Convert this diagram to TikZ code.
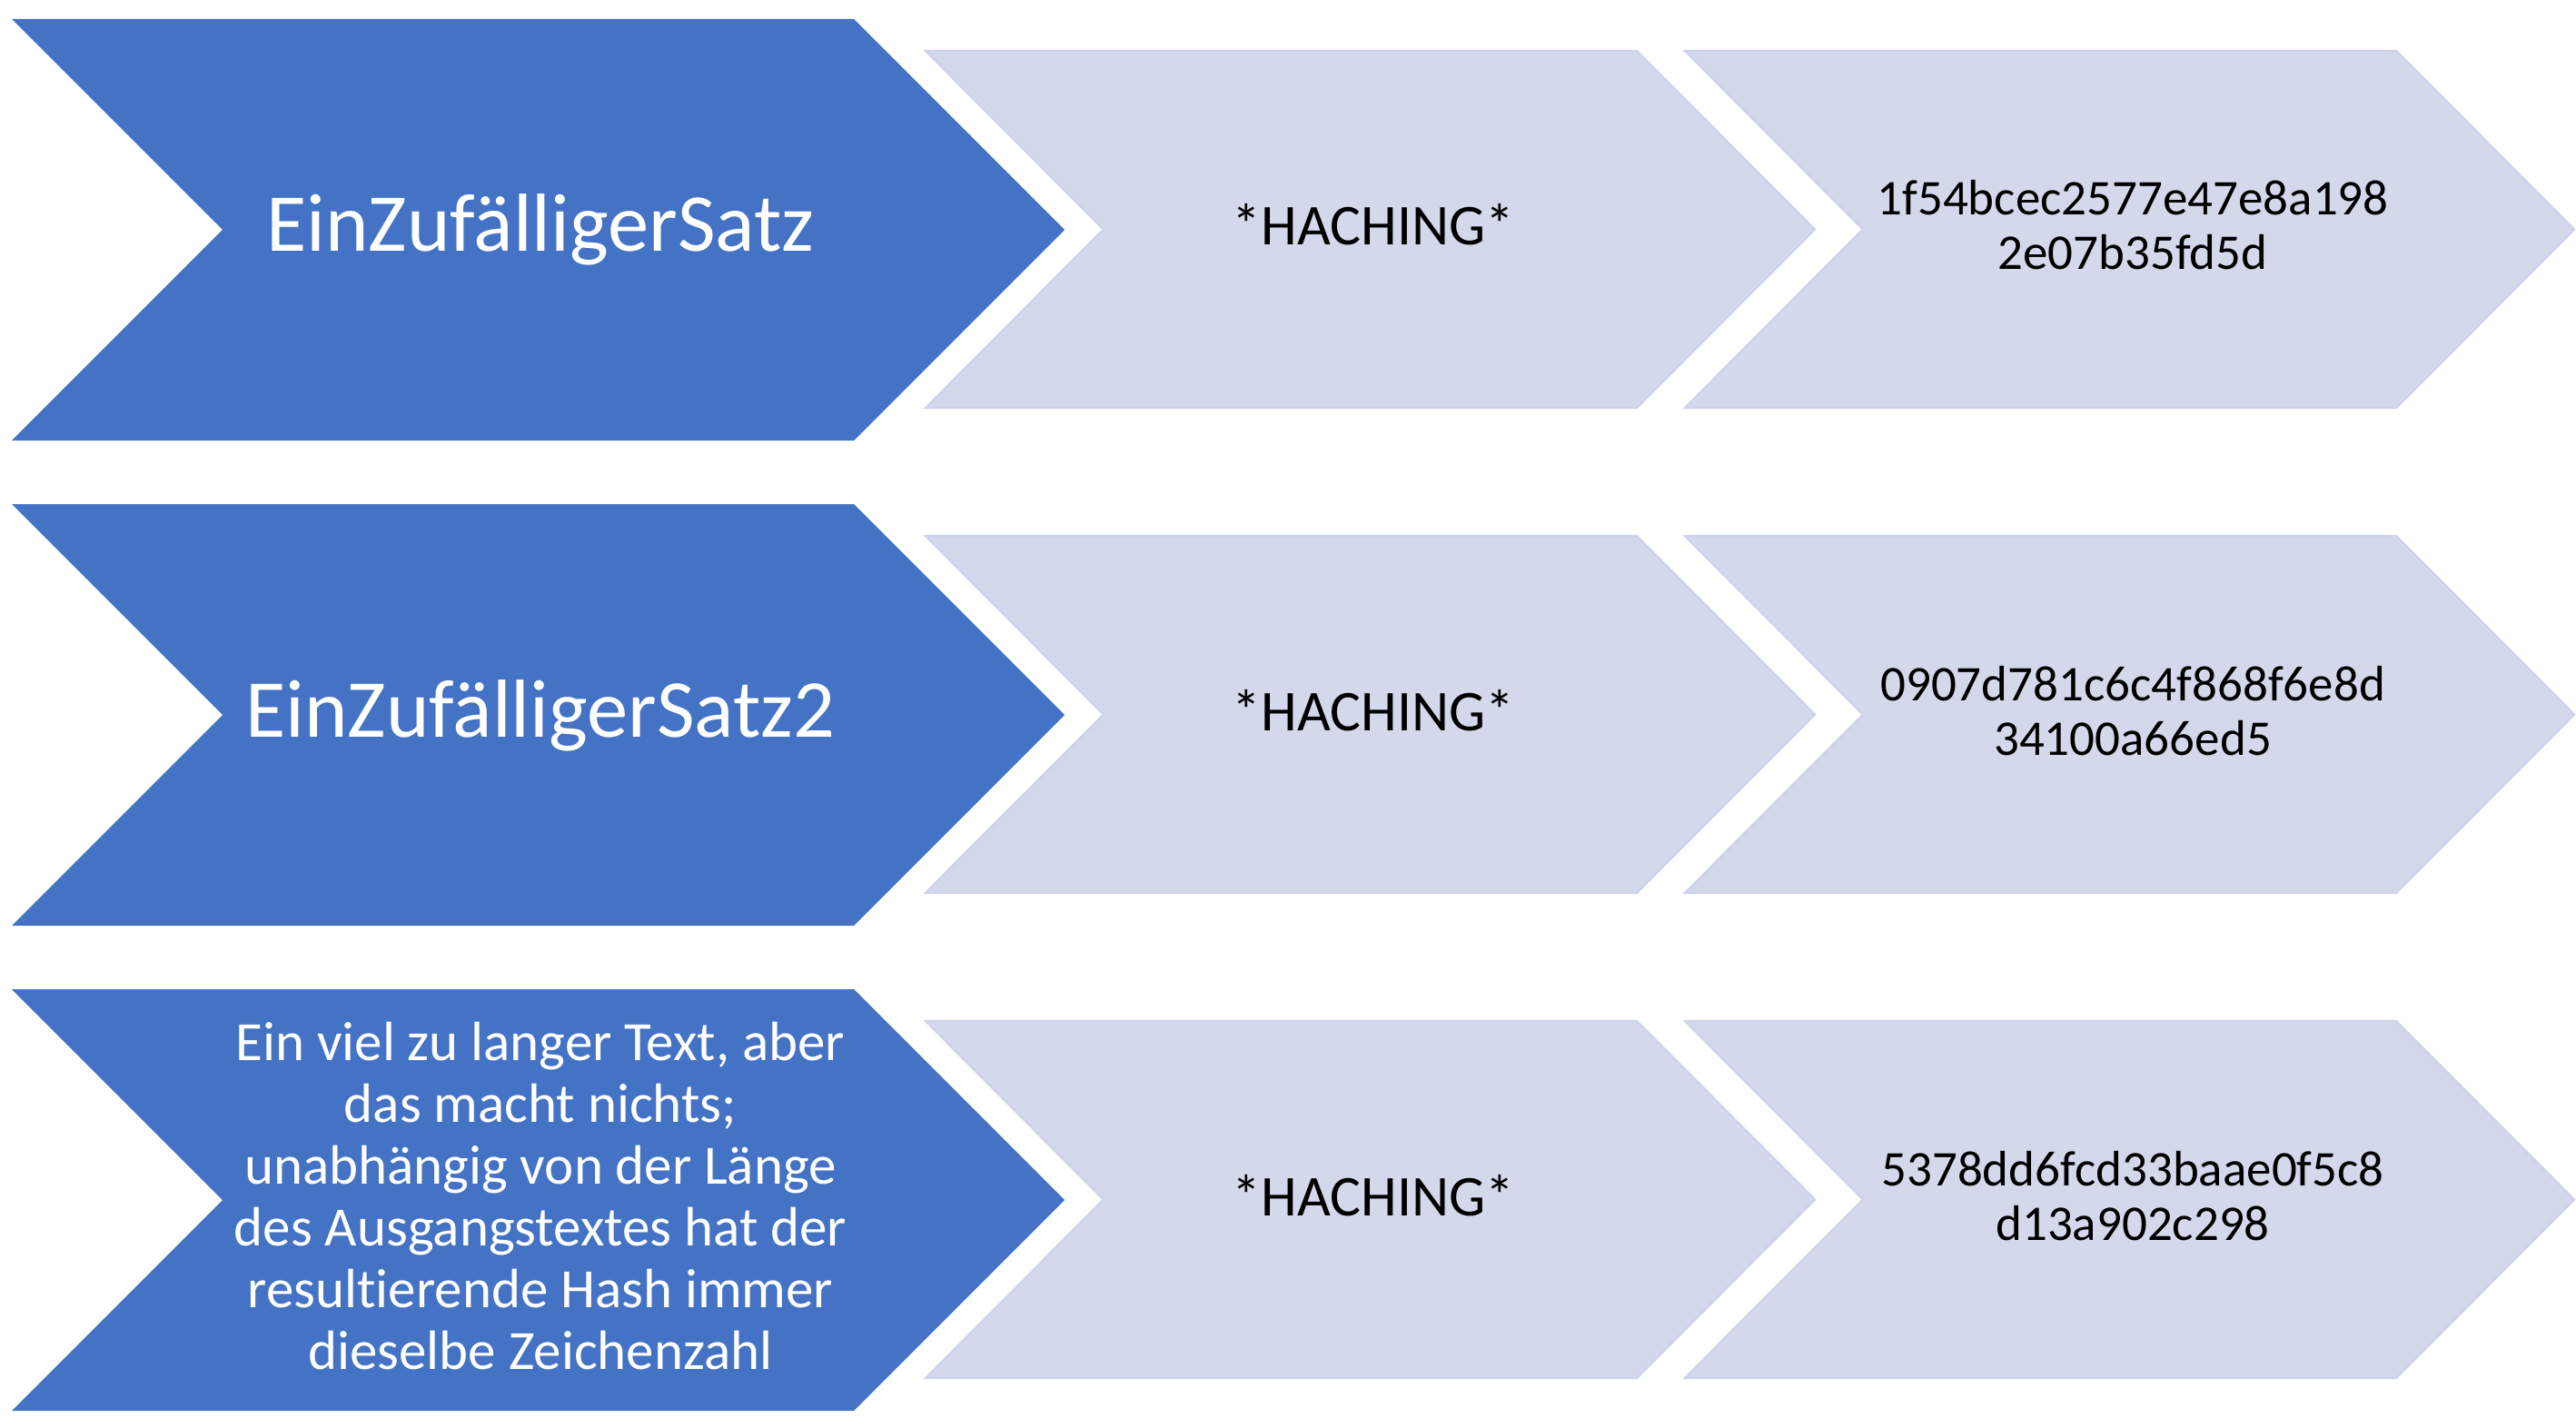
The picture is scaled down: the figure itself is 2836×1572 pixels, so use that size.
\documentclass[tikz,border=0pt]{standalone}
\usepackage{fontspec}
\setmainfont{Carlito}[Ligatures=NoCommon]
\definecolor{chevblue}{HTML}{4472C4}
\definecolor{chevlight}{HTML}{D3D8EB}
\definecolor{chevedge}{HTML}{CDD3EA}
\newcommand\stackc[2]{\vtop{\baselineskip=#1\lineskiplimit=-100pt\relax\halign{\hfil##\hfil\cr#2\crcr}}}
\newcommand\chevpath[5]{(#1,#3) -- (#2-#5,#3) -- (#2,{(#3+#4)/2}) -- (#2-#5,#4) -- (#1,#4) -- (#1+#5,{(#3+#4)/2}) -- cycle}
\begin{document}
\begin{tikzpicture}[x=0.5pt,y=-0.5pt,
  bluechev/.style={fill=chevblue,draw=none},
  lightchev/.style={fill=chevlight,draw=chevedge,line width=1.2pt,line join=miter},
  bigtxt/.style={inner sep=0pt,anchor=base,text=white,font=\fontsize{45.3}{54}\selectfont},
  longtxt/.style={inner sep=0pt,anchor=base,text=white,font=\fontsize{30.5}{34}\selectfont},
  hachtxt/.style={inner sep=0pt,anchor=base,text=black,font=\fontsize{31.8}{37}\selectfont},
  hashtxt/.style={inner sep=0pt,anchor=base,text=black,font=\fontsize{27.5}{30}\selectfont}]
\useasboundingbox (0,0) rectangle (2836,1572);
\fill[white] (0,0) rectangle (2836,1572);
% row 1
\path[bluechev]  \chevpath{13}{1172}{21}{485}{232};
\path[lightchev] \chevpath{1019}{1998}{56}{449}{196};
\path[lightchev] \chevpath{1855}{2834}{56}{449}{196};
% row 2
\path[bluechev]  \chevpath{13}{1172}{555}{1019}{232};
\path[lightchev] \chevpath{1019}{1998}{590}{983}{196};
\path[lightchev] \chevpath{1855}{2834}{590}{983}{196};
% row 3
\path[bluechev]  \chevpath{13}{1172}{1089}{1553}{232};
\path[lightchev] \chevpath{1019}{1998}{1124}{1517}{196};
\path[lightchev] \chevpath{1855}{2834}{1124}{1517}{196};
% texts
\node[bigtxt] (in1) at (595,277) {EinZufälligerSatz};
\node[bigtxt] (in2) at (595,811) {EinZufälligerSatz2};
\node[longtxt] (in3) at (595,1167) {\stackc{34pt}{Ein viel zu langer Text, aber\cr das macht nichts;\cr unabhängig von der Länge\cr des Ausgangstextes hat der\cr resultierende Hash immer\cr dieselbe Zeichenzahl}};
\node[hachtxt] (h1) at (1512,270) {*HACHING*};
\node[hachtxt] (h2) at (1512,804) {*HACHING*};
\node[hachtxt] (h3) at (1512,1338) {*HACHING*};
\node[hashtxt] (o1) at (2348,237) {\stackc{30pt}{1f54bcec2577e47e8a198\cr 2e07b35fd5d}};
\node[hashtxt] (o2) at (2348,771) {\stackc{30pt}{0907d781c6c4f868f6e8d\cr 34100a66ed5}};
\node[hashtxt] (o3) at (2348,1305) {\stackc{30pt}{5378dd6fcd33baae0f5c8\cr d13a902c298}};
\end{tikzpicture}
\end{document}
